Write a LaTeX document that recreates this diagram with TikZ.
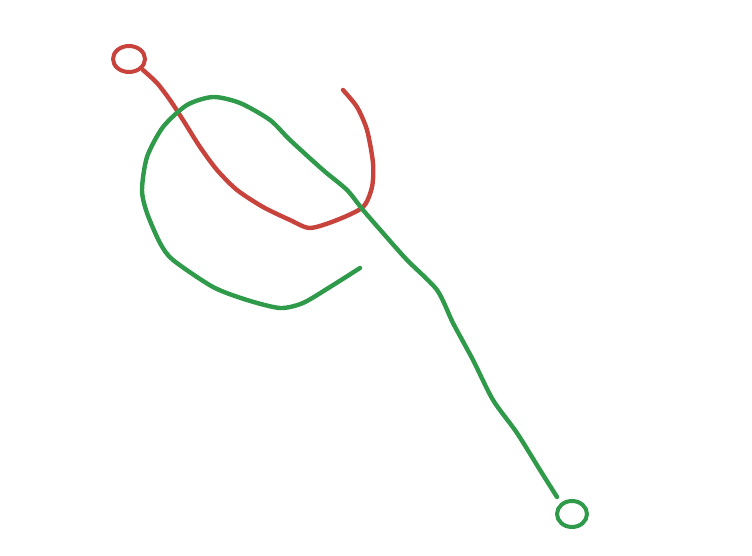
\documentclass[tikz,border=0pt]{standalone}
\usepackage{tikz}
\usetikzlibrary{calc}
\definecolor{redpen}{HTML}{C8433C}
\definecolor{greenpen}{HTML}{2E9A4A}

\begin{document}
\begin{tikzpicture}[
  x=1pt, y=-1pt,
  pen/.style={line width=4.4pt, line cap=round, line join=round},
  ring/.style={pen, line width=4pt}
]
  \useasboundingbox[fill=white] (0,0) rectangle (752,556);

  % Red stroke
  \draw[ring, redpen] (129,59) ellipse [x radius=16, y radius=13];
  \draw[pen, redpen] plot[smooth, tension=0.45] coordinates {
    (143,70) (157,83) (170,100) (183,120) (200,147) (217,170)
    (237,190) (263,207) (290,220) (310,228) (337,220) (363,207)
    (372,187) (373,163) (367,130) (357,107) (343,90)
  };

  % Green stroke
  \draw[ring, greenpen] (572,514) ellipse [x radius=15, y radius=13];
  \draw[pen, greenpen] plot[smooth, tension=0.45] coordinates {
    (557,497) (540,470) (517,433) (493,400) (473,360) (453,323)
    (437,290) (407,260) (383,233) (363,210) (347,190) (323,170)
    (290,140) (270,120) (240,103) (213,97) (187,105) (163,127)
    (147,157) (142,190) (147,213) (160,243) (173,260) (213,287)
    (247,300) (280,308) (303,303) (330,287) (360,268)
  };
\end{tikzpicture}
\end{document}
